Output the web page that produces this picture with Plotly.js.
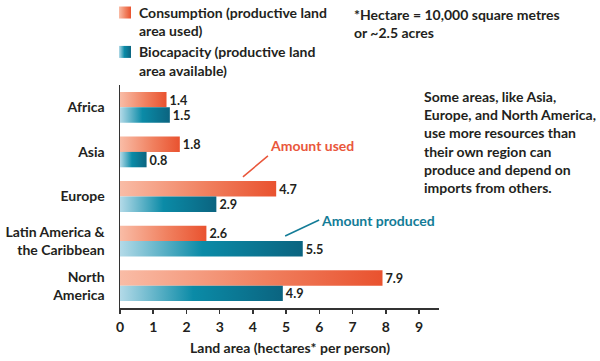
<!DOCTYPE html>
<html>
<head>
<meta charset="utf-8">
<script src="https://cdn.plot.ly/plotly-3.0.1.min.js"></script>
<style>
  html, body { margin: 0; padding: 0; background: #fff; }
  #chart { width: 600px; height: 361px; }
</style>
</head>
<body>
<div id="chart"></div>
<script>
// ---- data ----
const regions = ["Africa", "Asia", "Europe", "Latin America &<br>the Caribbean", "North<br>America"];
const consumption = [1.4, 1.8, 4.7, 2.6, 7.9];
const biocapacity = [1.5, 0.8, 2.9, 5.5, 4.9];
const xTicks = [0, 1, 2, 3, 4, 5, 6, 7, 8, 9];
const seriesNames = ["Consumption (productive land<br>area used)", "Biocapacity (productive land<br>area available)"];

const FONT = "Lato, 'Open Sans', sans-serif";
const FS = 14;
const INK = "#231f20";
const ORANGE = "#e9573b";
const TEAL = "#137c97";

const traces = [
  {
    type: "bar", orientation: "h", name: seriesNames[0], legendgroup: "a",
    y: regions, x: consumption,
    marker: { color: "#ee7252" },
    texttemplate: "%{x:.1f}", textposition: "outside", cliponaxis: false,
    textfont: { family: FONT, size: FS, weight: "bold", color: INK },
    hoverinfo: "skip"
  },
  {
    type: "bar", orientation: "h", name: seriesNames[1], legendgroup: "b",
    y: regions, x: biocapacity,
    marker: { color: "#107a96" },
    texttemplate: "%{x:.1f}", textposition: "outside", cliponaxis: false,
    textfont: { family: FONT, size: FS, weight: "bold", color: INK },
    hoverinfo: "skip"
  }
];

const layout = {
  width: 600, height: 361,
  margin: { l: 120, r: 161, t: 85, b: 53, autoexpand: false },
  paper_bgcolor: "#fff", plot_bgcolor: "#fff",
  font: { family: FONT, size: FS, weight: "bold", color: INK },
  barmode: "group", bargap: 0.31, bargroupgap: 0,
  showlegend: true,
  legend: {
    xref: "paper", yref: "paper",
    x: -0.047, xanchor: "left", y: 1.395, yanchor: "top",
    valign: "top", itemwidth: 30, tracegroupgap: 0,
    font: { family: FONT, size: FS, weight: "bold", color: INK },
    bgcolor: "rgba(0,0,0,0)"
  },
  xaxis: {
    range: [0, 9.6], tickvals: xTicks, ticktext: xTicks.map(String),
    ticks: "outside", ticklen: 4, tickwidth: 1.5, tickcolor: "#333",
    showline: true, linecolor: "#333", linewidth: 1.5,
    showgrid: false, zeroline: false, fixedrange: true,
    ticklabelstandoff: 2,
    tickfont: { family: FONT, size: FS, weight: "bold", color: INK }
  },
  yaxis: {
    type: "category", categoryorder: "array", categoryarray: regions,
    autorange: "reversed",
    showline: true, linecolor: "#333", linewidth: 1.5,
    ticks: "", showgrid: false, zeroline: false, fixedrange: true,
    ticklabelstandoff: 11,
    tickfont: { family: FONT, size: FS, weight: "bold", color: INK }
  },
  annotations: [
    {
      text: "Land area (hectares* per person)", showarrow: false,
      xref: "paper", yref: "paper", x: 0.533, y: -0.179,
      xanchor: "center", yanchor: "middle",
      font: { family: FONT, size: FS, weight: "bold", color: INK }
    },
    {
      text: "*Hectare = 10,000 square metres<br>or ~2.5 acres", showarrow: false,
      xref: "paper", yref: "paper", x: 0.727, y: 1.365,
      xanchor: "left", yanchor: "top", align: "left",
      font: { family: FONT, size: FS, weight: "bold", color: INK }
    },
    {
      text: "Some areas, like Asia,<br>Europe, and North America,<br>use more resources than<br>their own region can<br>produce and depend on<br>imports from others.",
      showarrow: false,
      xref: "paper", yref: "paper", x: 0.947, y: 0.744,
      xanchor: "left", yanchor: "middle", align: "left",
      font: { family: FONT, size: FS, weight: "bold", color: INK }
    },
    {
      text: "Amount used", showarrow: true, arrowhead: 0, arrowwidth: 1.5,
      arrowcolor: ORANGE, standoff: 0,
      xref: "x", yref: "y", x: 3.7, y: 1.56, ax: 25, ay: -21,
      xanchor: "left", yanchor: "bottom",
      font: { family: FONT, size: FS, weight: "bold", color: ORANGE }
    },
    {
      text: "Amount produced", showarrow: true, arrowhead: 0, arrowwidth: 1.5,
      arrowcolor: TEAL, standoff: 0,
      xref: "x", yref: "y", x: 4.97, y: 2.886, ax: 34, ay: -16,
      xanchor: "left", yanchor: "middle",
      font: { family: FONT, size: FS, weight: "bold", color: TEAL }
    }
  ]
};

function applyGradients(gd) {
  const svg = gd.querySelector(".main-svg");
  const NS = "http://www.w3.org/2000/svg";
  let defs = svg.querySelector("defs");
  if (!defs) { defs = document.createElementNS(NS, "defs"); svg.insertBefore(defs, svg.firstChild); }
  const grads = {
    gCons: [[0, "#f9bca6"], [0.55, "#f0805f"], [1, "#e9522f"]],
    gBio: [[0, "#b3dae8"], [0.45, "#0b8ba7"], [1, "#0b6480"]]
  };
  Object.keys(grads).forEach(id => {
    const lg = document.createElementNS(NS, "linearGradient");
    lg.setAttribute("id", id);
    lg.setAttribute("x1", "0"); lg.setAttribute("y1", "0");
    lg.setAttribute("x2", "1"); lg.setAttribute("y2", "0");
    grads[id].forEach(s => {
      const st = document.createElementNS(NS, "stop");
      st.setAttribute("offset", s[0]);
      st.setAttribute("stop-color", s[1]);
      lg.appendChild(st);
    });
    defs.appendChild(lg);
  });
  const ids = ["gCons", "gBio"];
  gd.querySelectorAll(".barlayer .trace").forEach((t, i) => {
    t.querySelectorAll(".point path").forEach(p => { p.style.fill = "url(#" + ids[i] + ")"; });
  });
  gd.querySelectorAll(".legend .traces").forEach((t, i) => {
    t.querySelectorAll(".legendpoints path").forEach(p => { p.style.fill = "url(#" + ids[i] + ")"; });
    const tx = t.querySelector("text.legendtext");
    if (tx) tx.setAttribute("transform", "translate(-6,0)");
  });
}

const gd = document.getElementById("chart");
Plotly.newPlot(gd, traces, layout, { displayModeBar: false, staticPlot: true }).then(() => applyGradients(gd));
</script>
</body>
</html>
